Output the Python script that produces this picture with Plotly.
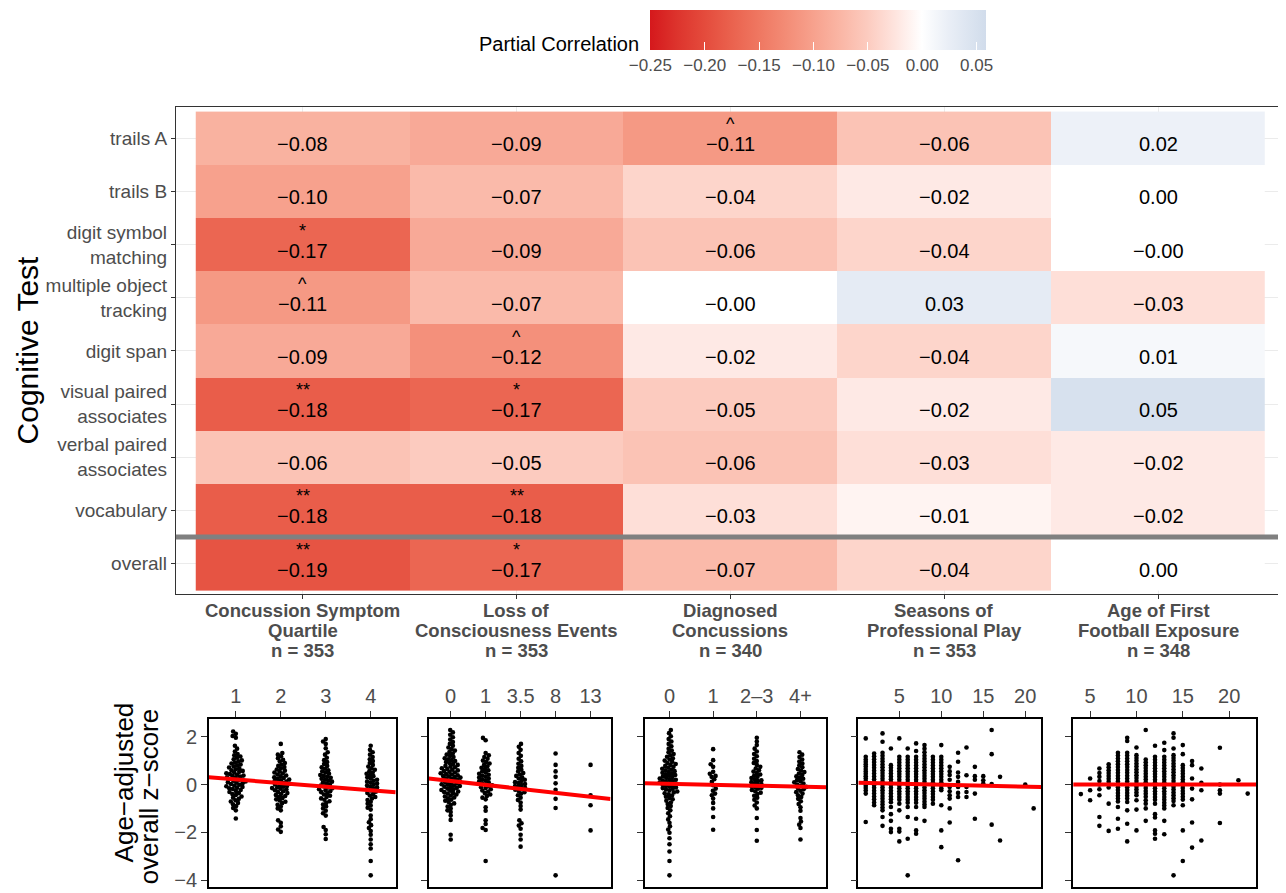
import plotly.graph_objects as go

# ---------------- data ----------------
tests = ["trails A", "trails B", "digit symbol<br>matching", "multiple object<br>tracking",
         "digit span", "visual paired<br>associates", "verbal paired<br>associates",
         "vocabulary", "overall"]
exposures = ["Concussion Symptom<br>Quartile<br>n = 353",
             "Loss of<br>Consciousness Events<br>n = 353",
             "Diagnosed<br>Concussions<br>n = 340",
             "Seasons of<br>Professional Play<br>n = 353",
             "Age of First<br>Football Exposure<br>n = 348"]
# rows follow `tests`, columns follow `exposures`
corr = [
    [-0.08, -0.09, -0.11, -0.06, 0.02],
    [-0.10, -0.07, -0.04, -0.02, 0.00],
    [-0.17, -0.09, -0.06, -0.04, -0.0],
    [-0.11, -0.07, -0.0, 0.03, -0.03],
    [-0.09, -0.12, -0.02, -0.04, 0.01],
    [-0.18, -0.17, -0.05, -0.02, 0.05],
    [-0.06, -0.05, -0.06, -0.03, -0.02],
    [-0.18, -0.18, -0.03, -0.01, -0.02],
    [-0.19, -0.17, -0.07, -0.04, 0.00],
]
signif = [
    ["", "", "^", "", ""],
    ["", "", "", "", ""],
    ["*", "", "", "", ""],
    ["^", "", "", "", ""],
    ["", "^", "", "", ""],
    ["**", "*", "", "", ""],
    ["", "", "", "", ""],
    ["**", "**", "", "", ""],
    ["**", "*", "", "", ""],
]
cbar_ticks = [-0.25, -0.20, -0.15, -0.10, -0.05, 0.00, 0.05]

# bottom panels: tick labels
csq_labels = ["1", "2", "3", "4"]
loc_labels = ["0", "1", "3.5", "8", "13"]
dx_labels = ["0", "1", "2\u20133", "4+"]
seasons_ticks = [5, 10, 15, 20]
age_ticks = [5, 10, 15, 20]

# age-adjusted overall z-score per group
csq_y = [
    [2.22, 2.12, 2.03, 1.96, 1.62, 1.5, 1.38, 1.28, 1.22, 1.17, 1.12, 1.06, 1.01, 0.97, 0.92, 0.88, 0.84,
     0.8, 0.76, 0.71, 0.68, 0.64, 0.6, 0.57, 0.53, 0.5, 0.47, 0.44, 0.41, 0.38, 0.35, 0.33, 0.3, 0.27,
     0.24, 0.21, 0.19, 0.16, 0.13, 0.1, 0.08, 0.05, 0.02, -0.01, -0.04, -0.07, -0.1, -0.13, -0.16,
     -0.19, -0.23, -0.27, -0.31, -0.36, -0.4, -0.44, -0.5, -0.55, -0.6, -0.66, -0.71, -0.77, -0.83,
     -0.9, -0.98, -1.08, -1.42],
    [1.7, 1.32, 1.25, 1.18, 1.1, 1.03, 0.97, 0.9, 0.84, 0.78, 0.73, 0.68, 0.63, 0.58, 0.54, 0.5, 0.46,
     0.42, 0.38, 0.34, 0.3, 0.27, 0.24, 0.21, 0.18, 0.15, 0.12, 0.09, 0.06, 0.03, 0.0, -0.03, -0.06,
     -0.09, -0.12, -0.15, -0.18, -0.21, -0.24, -0.28, -0.32, -0.36, -0.4, -0.44, -0.48, -0.52, -0.57,
     -0.62, -0.67, -0.72, -0.78, -0.85, -0.92, -1.0, -1.08, -1.5, -1.6, -1.75, -1.88, -1.98],
    [1.9, 1.8, 1.7, 1.52, 1.35, 1.25, 1.12, 1.02, 0.94, 0.86, 0.78, 0.72, 0.66, 0.6, 0.55, 0.5, 0.45,
     0.4, 0.36, 0.32, 0.28, 0.24, 0.2, 0.16, 0.12, 0.08, 0.04, 0.0, -0.04, -0.08, -0.12, -0.16, -0.2,
     -0.24, -0.28, -0.32, -0.37, -0.42, -0.47, -0.52, -0.58, -0.64, -0.7, -0.77, -0.84, -0.92, -1.0,
     -1.1, -1.2, -1.3, -1.78, -1.9, -2.08, -2.28],
    [1.62, 1.45, 1.35, 1.25, 1.15, 1.06, 0.98, 0.9, 0.82, 0.75, 0.68, 0.62, 0.56, 0.5, 0.45, 0.4, 0.35,
     0.3, 0.25, 0.2, 0.16, 0.12, 0.08, 0.04, 0.0, -0.04, -0.08, -0.12, -0.16, -0.2, -0.25, -0.3, -0.35,
     -0.4, -0.46, -0.52, -0.58, -0.65, -0.72, -0.8, -0.88, -0.97, -1.05, -1.3, -1.45, -1.58, -1.7,
     -1.82, -1.95, -2.1, -2.3, -2.5, -2.68, -3.2, -3.8],
]
loc_y = [
    [2.28, 2.18, 2.08, 1.98, 1.88, 1.78, 1.7, 1.62, 1.55, 1.48, 1.42, 1.36, 1.3, 1.25, 1.2, 1.15, 1.1,
     1.06, 1.02, 0.98, 0.94, 0.9, 0.86, 0.82, 0.78, 0.75, 0.72, 0.68, 0.65, 0.62, 0.59, 0.56, 0.53,
     0.5, 0.47, 0.44, 0.42, 0.39, 0.36, 0.34, 0.31, 0.29, 0.26, 0.24, 0.21, 0.19, 0.16, 0.14, 0.11,
     0.09, 0.06, 0.04, 0.01, -0.01, -0.04, -0.06, -0.09, -0.11, -0.14, -0.17, -0.2, -0.23, -0.26,
     -0.29, -0.32, -0.35, -0.38, -0.42, -0.46, -0.5, -0.54, -0.58, -0.63, -0.68, -0.73, -0.79, -0.85,
     -0.92, -1.0, -1.08, -1.15, -1.3, -1.48, -2.1, -2.3],
    [1.95, 1.85, 1.32, 1.22, 1.15, 1.08, 1.0, 0.94, 0.88, 0.82, 0.76, 0.7, 0.65, 0.6, 0.55, 0.5, 0.45,
     0.41, 0.37, 0.33, 0.29, 0.25, 0.21, 0.17, 0.13, 0.09, 0.05, 0.01, -0.03, -0.07, -0.11, -0.15,
     -0.2, -0.25, -0.3, -0.36, -0.42, -0.48, -0.55, -0.62, -0.95, -1.1, -1.5, -1.65, -1.82, -1.9, -3.2],
    [1.7, 1.58, 1.45, 1.32, 1.2, 1.08, 0.97, 0.87, 0.78, 0.7, 0.62, 0.55, 0.48, 0.42, 0.36, 0.3, 0.25,
     0.2, 0.15, 0.1, 0.06, 0.02, -0.02, -0.06, -0.1, -0.14, -0.18, -0.22, -0.27, -0.32, -0.38, -0.45,
     -0.55, -0.65, -0.75, -0.9, -1.05, -1.5, -1.62, -1.72, -1.85, -2.1, -2.3, -2.6],
    [1.3, 0.82, 0.55, 0.32, 0.05, -0.22, -0.6, -0.98, -3.8],
    [0.82, -0.45, -0.87, -1.92],
]
dx_y = [
    [2.28, 2.15, 2.02, 1.9, 1.8, 1.7, 1.6, 1.5, 1.42, 1.35, 1.28, 1.22, 1.16, 1.1, 1.05, 1.0, 0.95,
     0.9, 0.86, 0.82, 0.78, 0.74, 0.7, 0.66, 0.62, 0.59, 0.56, 0.52, 0.49, 0.46, 0.43, 0.4, 0.37,
     0.34, 0.31, 0.28, 0.25, 0.22, 0.2, 0.17, 0.14, 0.11, 0.08, 0.06, 0.03, 0.0, -0.03, -0.06, -0.09,
     -0.12, -0.15, -0.18, -0.21, -0.25, -0.29, -0.33, -0.37, -0.41, -0.46, -0.51, -0.56, -0.62, -0.68,
     -0.75, -0.82, -0.9, -0.98, -1.08, -1.2, -1.33, -1.46, -1.6, -1.75, -1.88, -2.02, -2.25, -2.5,
     -2.8, -3.2, -3.8],
    [1.48, 1.02, 0.85, 0.74, 0.53, 0.45, 0.36, 0.32, 0.22, 0.11, -0.03, -0.17, -0.26, -0.38, -0.45,
     -0.59, -0.77, -1.0, -1.36, -1.89],
    [1.96, 1.8, 1.65, 1.5, 1.38, 1.28, 1.18, 1.08, 0.98, 0.9, 0.82, 0.74, 0.67, 0.6, 0.54, 0.48, 0.42,
     0.37, 0.32, 0.27, 0.22, 0.18, 0.14, 0.1, 0.06, 0.02, -0.02, -0.06, -0.1, -0.14, -0.18, -0.23,
     -0.28, -0.34, -0.4, -0.47, -0.55, -0.64, -0.75, -0.88, -1.0, -1.4, -1.9, -2.35],
    [1.35, 1.25, 1.15, 1.05, 0.96, 0.88, 0.8, 0.72, 0.65, 0.58, 0.52, 0.46, 0.4, 0.34, 0.29, 0.24,
     0.19, 0.14, 0.09, 0.04, 0.0, -0.05, -0.1, -0.15, -0.2, -0.26, -0.32, -0.38, -0.45, -0.52, -0.6,
     -0.7, -0.82, -0.95, -1.1, -1.4, -1.55, -1.68, -1.82, -2.3],
]
seasons_x = [1, 2, 3, 4, 5, 6, 7, 8, 9, 10, 11, 12, 13, 14, 15, 16, 17, 20, 21]
seasons_y = [
    [1.93, 1.16, 1.05, 0.95, 0.85, 0.75, 0.65, 0.55, 0.45, 0.35, 0.25, 0.15, 0.05, -0.05, -0.15, -0.25, -0.38, -1.57],
    [1.3, 1.18, 1.06, 0.94, 0.82, 0.7, 0.58, 0.46, 0.34, 0.22, 0.1, -0.02, -0.14, -0.26, -0.38, -0.5, -0.62, -0.75, -0.87],
    [2.14, 1.79, 1.33, 1.2, 1.08, 0.96, 0.84, 0.72, 0.6, 0.48, 0.36, 0.24, 0.12, 0.0, -0.12, -0.24, -0.36, -0.48, -0.6, -0.72, -0.84, -0.96, -1.08, -1.36, -1.73],
    [1.51, 0.81, 0.7, 0.58, 0.46, 0.34, 0.22, 0.1, -0.02, -0.14, -0.26, -0.38, -0.5, -0.62, -0.74, -0.94, -1.24, -1.52, -1.85, -1.99],
    [1.93, 1.16, 1.04, 0.92, 0.8, 0.68, 0.56, 0.44, 0.32, 0.2, 0.08, -0.04, -0.16, -0.28, -0.4, -0.52, -0.64, -0.8, -1.08, -1.85, -1.97, -2.38],
    [1.51, 1.16, 1.04, 0.92, 0.8, 0.68, 0.56, 0.44, 0.32, 0.2, 0.08, -0.04, -0.16, -0.28, -0.4, -0.52, -0.64, -0.76, -0.94, -1.36, -2.27, -3.8],
    [1.72, 1.4, 1.16, 1.04, 0.92, 0.8, 0.68, 0.56, 0.44, 0.32, 0.2, 0.08, -0.04, -0.16, -0.28, -0.4, -0.52, -0.64, -0.76, -0.94, -1.43, -1.92, -2.06],
    [1.65, 1.5, 1.35, 1.2, 1.08, 0.96, 0.84, 0.72, 0.6, 0.48, 0.36, 0.24, 0.12, 0.0, -0.12, -0.24, -0.36, -0.48, -0.6, -0.72, -0.84, -0.94, -1.52],
    [1.16, 1.04, 0.92, 0.8, 0.68, 0.56, 0.44, 0.32, 0.2, 0.08, -0.04, -0.16, -0.28, -0.4, -0.52, -0.64, -0.8],
    [1.65, 1.16, 1.04, 0.92, 0.8, 0.68, 0.56, 0.44, 0.32, 0.2, 0.08, -0.04, -0.16, -0.24, -0.87, -1.92, -2.62],
    [0.74, 0.55, 0.4, 0.2, -0.1, -0.28, -0.45, -0.59, -1.0, -1.59],
    [1.33, 0.95, 0.5, 0.32, 0.11, -0.1, -0.35, -0.52, -3.17],
    [1.55, 0.39, -0.1, -0.31, -0.52],
    [0.74, 0.35, 0.2, -0.38, -1.43],
    [0.35, 0.18, 0.04],
    [2.28, 1.27, 0.02, -1.68],
    [0.32, -2.34],
    [0.0],
    [-1.0],
]
age_x = [4, 5, 6, 7, 8, 9, 10, 11, 12, 13, 14, 15, 16, 17, 19, 21, 22]
age_y = [
    [-0.4],
    [0.25, -0.24, -0.66],
    [0.67, 0.48, 0.32, 0.15, 0.0, -0.2, -0.45, -1.36, -1.73],
    [0.85, 0.72, 0.6, 0.48, 0.36, 0.24, 0.12, 0.0, -0.12, -0.8, -1.94],
    [1.33, 1.21, 1.09, 0.97, 0.85, 0.73, 0.61, 0.49, 0.37, 0.25, 0.13, 0.01, -0.11, -0.23, -0.35, -0.47, -0.59, -0.71, -0.94, -1.43, -1.85],
    [1.96, 1.82, 1.33, 1.21, 1.09, 0.97, 0.85, 0.73, 0.61, 0.49, 0.37, 0.25, 0.13, 0.01, -0.11, -0.23, -0.35, -0.47, -0.59, -0.73, -1.08, -1.64, -2.38],
    [1.55, 1.23, 1.11, 0.99, 0.87, 0.75, 0.63, 0.51, 0.39, 0.27, 0.15, 0.03, -0.09, -0.21, -0.33, -0.45, -0.66, -1.05, -1.92],
    [2.28, 1.05, 0.93, 0.81, 0.69, 0.57, 0.45, 0.33, 0.21, 0.09, -0.03, -0.15, -0.27, -0.39, -0.51, -0.66, -0.8, -1.0, -1.52],
    [1.62, 1.16, 1.04, 0.92, 0.8, 0.68, 0.56, 0.44, 0.32, 0.2, 0.08, -0.04, -0.16, -0.28, -0.4, -0.52, -0.64, -0.8, -1.24, -1.38, -1.92, -2.06, -2.27],
    [1.75, 1.44, 1.16, 1.04, 0.92, 0.8, 0.68, 0.56, 0.44, 0.32, 0.2, 0.08, -0.04, -0.16, -0.28, -0.4, -0.52, -0.64, -0.76, -0.88, -1.0, -1.52, -2.08],
    [2.14, 1.96, 1.51, 1.23, 1.11, 0.99, 0.87, 0.75, 0.63, 0.51, 0.39, 0.27, 0.15, 0.03, -0.09, -0.21, -0.33, -0.45, -0.57, -0.69, -0.87, -3.8],
    [1.65, 1.27, 0.81, 0.69, 0.57, 0.45, 0.33, 0.21, 0.09, -0.03, -0.15, -0.27, -0.39, -0.51, -0.63, -0.87, -1.92, -3.2],
    [0.98, 0.81, 0.25, -0.17, -0.62, -1.59, -2.64],
    [0.67, 0.07, -0.24, -2.34],
    [1.54, 0.0, -0.24, -0.38, -1.61],
    [0.18],
    [-0.38],
]
# fitted lines (intercept, slope)
fit_intercept = [0.36, 0.15, 0.03, 0.07, -0.005]
fit_slope = [-0.15, -0.165, -0.04, -0.008, 0.0003]

# ---------------- helpers ----------------
W, H = 1286, 893
OFF = 8  # page body margin
FONT = "Liberation Sans, Arial, Helvetica, sans-serif"
GRAY = "#4d4d4d"


def px(x):
    return (x - OFF) / W


def py(y):
    return 1 - (y - OFF) / H


def fmt(v):
    return f"{v:.2f}".replace("-", "\u2212")


def swarm(ys, ppx, ppy, d=3.6):
    order = sorted(range(len(ys)), key=lambda i: ys[i])
    placed = []
    offs = [0.0] * len(ys)
    for i in order:
        yp = ys[i] * ppy
        near = [(x, y) for (x, y) in placed if abs(y - yp) < d]
        cands = [0.0]
        for (x, y) in near:
            dx = (d * d - (y - yp) ** 2) ** 0.5
            cands += [x + dx, x - dx]
        cands.sort(key=lambda c: (abs(c), c))
        for c in cands:
            if all((c - x) ** 2 + (yp - y) ** 2 >= d * d - 1e-6 for (x, y) in near):
                offs[i] = c / ppx
                placed.append((c, yp))
                break
    return offs


fig = go.Figure()

# ---------------- heatmap ----------------
nrow = len(tests)
ypos = list(range(nrow))[::-1]  # trails A at top
stops = [(-0.25, (213, 24, 28)), (-0.225, (221, 52, 45)), (-0.20, (228, 75, 60)),
         (-0.175, (234, 98, 78)), (-0.15, (239, 119, 97)), (-0.125, (243, 140, 118)),
         (-0.10, (247, 161, 141)), (-0.075, (250, 182, 165)), (-0.05, (252, 203, 191)),
         (-0.025, (254, 228, 222)), (0.0, (255, 255, 255)), (0.025, (233, 238, 246)),
         (0.05, (215, 225, 238)), (0.059, (209, 220, 235))]
zmin, zmax = -0.25, 0.059
cscale = [[(v - zmin) / (zmax - zmin), f"rgb{c}"] for v, c in stops]
cscale[-1][0] = 1.0

fig.add_trace(go.Heatmap(
    z=corr, x=list(range(len(exposures))), y=ypos,
    colorscale=cscale, zmin=zmin, zmax=zmax, xaxis="x", yaxis="y",
    hoverinfo="skip",
    colorbar=dict(orientation="h", x=px(819), xanchor="center", y=py(10), yanchor="top",
                  len=336, lenmode="pixels", thickness=40, xpad=0, ypad=0, outlinewidth=0,
                  tickvals=cbar_ticks, ticktext=[fmt(v) for v in cbar_ticks],
                  ticks="inside", ticklen=8, tickcolor="white", tickwidth=1,
                  tickfont=dict(family=FONT, size=17, color=GRAY)),
))

annotations = []
for r in range(nrow):
    for c in range(len(exposures)):
        annotations.append(dict(x=c, y=ypos[r], xref="x", yref="y", text=fmt(corr[r][c]),
                                showarrow=False, yshift=-6,
                                font=dict(family=FONT, size=20, color="black")))
        if signif[r][c]:
            annotations.append(dict(x=c, y=ypos[r], xref="x", yref="y", text=signif[r][c],
                                    showarrow=False, yshift=14,
                                    font=dict(family=FONT, size=18, color="black")))

# exposure labels under the heatmap (one annotation per line)
for c, lab in enumerate(exposures):
    for j, line in enumerate(lab.split("<br>")):
        annotations.append(dict(x=c, y=py(613 + 20 * j), xref="x", yref="paper",
                                text=f"<b>{line}</b>", showarrow=False,
                                xanchor="center", yanchor="middle",
                                font=dict(family=FONT, size=18.5, color=GRAY)))

right_edge = 1294  # panel continues past the picture's right border
layout_axes = {}
layout_axes["xaxis"] = dict(domain=[px(176), px(right_edge)],
                            range=[-0.593, -0.593 + (right_edge - 176) / 214.0], anchor="y",
                            tickvals=list(range(len(exposures))), showticklabels=False,
                            ticks="outside", ticklen=4, tickcolor="#333333",
                            showline=True, mirror=True, linecolor="#333333", linewidth=1,
                            showgrid=True, gridcolor="#ebebeb", zeroline=False)
layout_axes["yaxis"] = dict(domain=[py(597), py(107)], range=[-0.58, 8.595], anchor="x",
                            tickvals=ypos, ticktext=tests,
                            tickfont=dict(family=FONT, size=19, color=GRAY),
                            ticks="outside", ticklen=4, tickcolor="#333333",
                            showline=True, mirror=True, linecolor="#333333", linewidth=1,
                            showgrid=True, gridcolor="#ebebeb", zeroline=False)

shapes = [dict(type="line", xref="paper", yref="y", x0=px(176), x1=px(right_edge), y0=0.5, y1=0.5,
               line=dict(color="#808080", width=5))]

annotations.append(dict(x=px(27), y=py(351), xref="paper", yref="paper", text="Cognitive Test",
                        textangle=-90, showarrow=False, xanchor="center", yanchor="middle",
                        font=dict(family=FONT, size=30, color="black")))
annotations.append(dict(x=px(641), y=py(44), xref="paper", yref="paper", text="Partial Correlation",
                        showarrow=False, xanchor="right", yanchor="middle",
                        font=dict(family=FONT, size=20, color="black")))

# ---------------- bottom panels ----------------
panel_px = [(209, 396), (429, 611), (645, 827), (859, 1042), (1074, 1257)]
x_ranges = [[0.4, 4.556], [-0.629, 4.571], [-0.572, 3.593], [0.119, 21.9], [3.17, 22.9]]
y_range = [-4.29, 2.75]
ppy = (891 - 722) / (y_range[1] - y_range[0])

cat_sets = [(csq_y, [1, 2, 3, 4], csq_labels),
            (loc_y, [0, 1, 2, 3, 4], loc_labels),
            (dx_y, [0, 1, 2, 3], dx_labels)]

for k in range(5):
    ax = k + 2
    xs, ys = [], []
    xr = x_ranges[k]
    ppx = (panel_px[k][1] - panel_px[k][0]) / (xr[1] - xr[0])
    if k < 3:
        groups, pos, labels = cat_sets[k]
        for g, p in zip(groups, pos):
            offs = swarm(g, ppx, ppy)
            xs += [p + o for o in offs]
            ys += g
        tickvals, ticktext = pos, labels
    else:
        gx = seasons_x if k == 3 else age_x
        gy = seasons_y if k == 3 else age_y
        for xv, yl in zip(gx, gy):
            xs += [xv] * len(yl)
            ys += yl
        tv = seasons_ticks if k == 3 else age_ticks
        tickvals, ticktext = tv, [str(t) for t in tv]
    fig.add_trace(go.Scatter(x=xs, y=ys, mode="markers", xaxis=f"x{ax}", yaxis=f"y{ax}",
                             marker=dict(size=4.6, color="black"), hoverinfo="skip",
                             showlegend=False))
    lx = [xr[0], xr[1]]
    ly = [fit_intercept[k] + fit_slope[k] * v for v in lx]
    fig.add_trace(go.Scatter(x=lx, y=ly, mode="lines", xaxis=f"x{ax}", yaxis=f"y{ax}",
                             line=dict(color="#ff0000", width=4), hoverinfo="skip",
                             showlegend=False))
    layout_axes[f"xaxis{ax}"] = dict(domain=[px(panel_px[k][0]), px(panel_px[k][1])], range=xr,
                                     anchor=f"y{ax}", side="top", tickvals=tickvals,
                                     ticktext=ticktext, ticks="outside", ticklen=6,
                                     tickcolor="#333333", tickwidth=1.2,
                                     tickfont=dict(family=FONT, size=20, color=GRAY),
                                     showline=True, mirror=True, linecolor="black",
                                     linewidth=1.6, showgrid=False, zeroline=False)
    layout_axes[f"yaxis{ax}"] = dict(domain=[py(891), py(722)], range=y_range,
                                     anchor=f"x{ax}", tickvals=[2, 0, -2, -4],
                                     ticktext=["2", "0", "\u22122", "\u22124"],
                                     showticklabels=(k == 0), ticks="outside", ticklen=6,
                                     tickcolor="#333333", tickwidth=1.2,
                                     tickfont=dict(family=FONT, size=20, color=GRAY),
                                     showline=True, mirror=True, linecolor="black",
                                     linewidth=1.6, showgrid=False, zeroline=False)

annotations.append(dict(x=px(124), y=py(786), xref="paper", yref="paper",
                        text="Age\u2212adjusted", textangle=-90,
                        showarrow=False, xanchor="center", yanchor="middle",
                        font=dict(family=FONT, size=26, color="black")))
annotations.append(dict(x=px(150), y=py(800), xref="paper", yref="paper",
                        text="overall z\u2212score", textangle=-90,
                        showarrow=False, xanchor="center", yanchor="middle",
                        font=dict(family=FONT, size=26, color="black")))

fig.update_layout(width=W, height=H, autosize=False, margin=dict(l=0, r=0, t=0, b=0),
                  paper_bgcolor="white", plot_bgcolor="white", showlegend=False,
                  annotations=annotations, shapes=shapes, **layout_axes)

fig.write_html("out.html")
